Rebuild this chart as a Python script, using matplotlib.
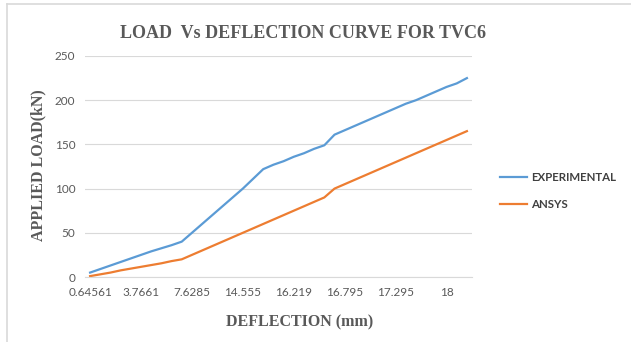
import matplotlib
matplotlib.use("Agg")
from matplotlib import pyplot as plt
from matplotlib.lines import Line2D

# deflection readings (mm), one category per load step
deflection = ["0.64561", "1.2507", "1.8932", "2.5104", "3.1386",
              "3.7661", "4.5023", "5.2814", "6.0417", "6.835",
              "7.6285", "9.0412", "10.437", "11.872", "13.206",
              "14.555", "14.913", "15.247", "15.602", "15.918",
              "16.219", "16.334", "16.451", "16.566", "16.68",
              "16.795", "16.894", "16.996", "17.095", "17.196",
              "17.295", "17.437", "17.578", "17.721", "17.86",
              "18", "18.142", "18.285"]

experimental = [5, 9, 13, 17, 21, 25, 29, 32.5, 36, 40,
                50, 60, 70, 80, 90, 100, 111, 122,
                127, 131, 136, 140, 145, 149,
                161, 166, 171, 176, 181, 186, 191, 196, 200, 205, 210, 215, 219, 225]

ansys = [1, 3, 5, 7.5, 9.5, 11.5, 13.5, 15.5, 18, 20,
         25, 30, 35, 40, 45, 50, 55, 60, 65, 70, 75, 80, 85, 90,
         100, 105, 110, 115, 120, 125, 130, 135, 140, 145, 150, 155, 160, 165]

y_ticks = [0, 50, 100, 150, 200, 250]
label_every = 5

BLUE = "#5B9BD5"
ORANGE = "#ED7D31"
GREY_TEXT = "#595959"
GRID = "#D9D9D9"

W, H = 631, 342
fig = plt.figure(figsize=(W / 100, H / 100), dpi=100)
fig.patch.set_facecolor("white")

# chart frame (left and top edges)
fig.add_artist(Line2D([7 / W, 7 / W], [0, 1 - 4 / H], color=GRID, lw=1.2))
fig.add_artist(Line2D([7 / W, 1], [1 - 4 / H, 1 - 4 / H], color=GRID, lw=1.2))

ax = fig.add_axes([85 / W, 1 - 277 / H, 387 / W, 221 / H])

x = list(range(len(deflection)))
ax.plot(x, experimental, color=BLUE, lw=1.6, label="EXPERIMENTAL")
ax.plot(x, ansys, color=ORANGE, lw=1.6, label="ANSYS")

ax.set_xlim(-0.5, len(deflection) - 0.5)
ax.set_ylim(0, 250)
ax.set_yticks(y_ticks)
tick_idx = x[::label_every]
ax.set_xticks(tick_idx)
ax.set_xticklabels([deflection[i] for i in tick_idx])

ax.grid(axis="y", color=GRID, lw=0.8)
ax.set_axisbelow(True)
for side in ["top", "right", "left"]:
    ax.spines[side].set_visible(False)
ax.spines["bottom"].set_color(GRID)
ax.spines["bottom"].set_linewidth(0.8)
ax.tick_params(length=0, colors=GREY_TEXT, labelsize=8.5, pad=7)
for lbl in ax.get_xticklabels() + ax.get_yticklabels():
    lbl.set_fontfamily("Lato")

serif = dict(family="Liberation Serif", weight="bold", color=GREY_TEXT)
fig.text(303 / W, 1 - 33 / H, "LOAD  Vs DEFLECTION CURVE FOR TVC6",
         ha="center", va="center", fontsize=13, **serif)
fig.text(38 / W, 1 - 165 / H, "APPLIED LOAD(kN)", rotation=90,
         ha="center", va="center", fontsize=11.5, **serif)
fig.text(300 / W, 1 - 322 / H, "DEFLECTION (mm)",
         ha="center", va="center", fontsize=11.5, **serif)

leg = ax.legend(loc="center left", bbox_to_anchor=(490 / W, 1 - 191 / H),
                bbox_transform=fig.transFigure, frameon=False,
                handlelength=2.3, handletextpad=0.4, labelspacing=1.45,
                prop={"family": "Lato", "size": 8.3, "weight": "bold"})
for t in leg.get_texts():
    t.set_color("#404040")

fig.savefig("out.png", dpi=100)
